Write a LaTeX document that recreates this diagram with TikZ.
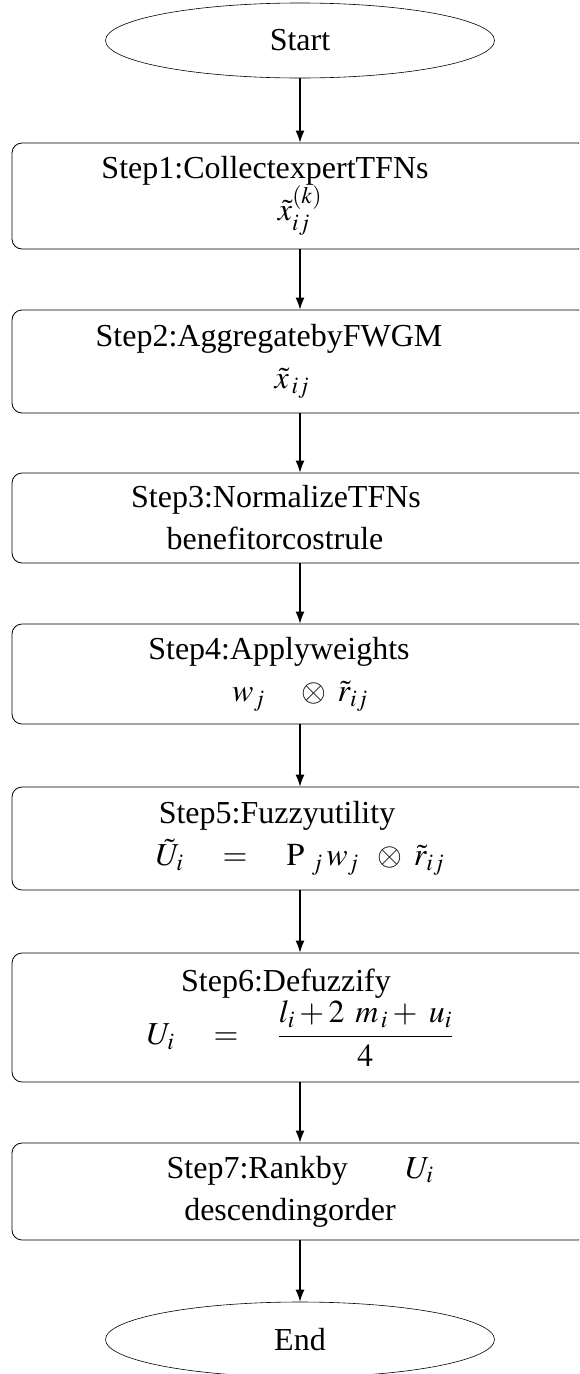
\documentclass[tikz,border=0pt]{standalone}
\usepackage{amsmath}
\usepackage{mathptmx}
\usepackage{fontspec}
\setmainfont{Liberation Serif}
\usepackage{tikz}
\usetikzlibrary{shapes.geometric}
\usetikzlibrary{arrows.meta}

\begin{document}
\begin{tikzpicture}[
        x=1pt, y=-1pt,
        term-node/.style={ellipse,draw,line width=0.6pt,minimum width=389pt,minimum height=75pt,inner sep=0pt},
        step-node/.style={rectangle,draw,line width=0.8pt,rounded corners=10pt,minimum width=576pt,align=center,inner sep=0pt},
        flow/.style={-{Latex[length=12pt,width=9pt]},line width=1.2pt},
        font=\fontsize{32}{42}\selectfont
    ]
        \clip (0,0) rectangle (579,1374);

        \node[term-node] (start) at (300, 40.5) {Start};

        \node[step-node, minimum height=106pt] (s1) at (300, 196) {Step1:CollectexpertTFNs\kern70pt\\$\tilde{x}_{ij}^{(k)}$};
        \node[step-node, minimum height=103pt] (s2) at (300, 361.5) {Step2:AggregatebyFWGM\kern62pt\\$\tilde{x}_{\,ij}$\kern16pt};
        \node[step-node, minimum height=90pt] (s3) at (300, 518) {Step3:NormalizeTFNs\kern48pt\\benefitorcostrule\kern50pt};
        \node[step-node, minimum height=100pt] (s4) at (300, 674) {Step4:Applyweights\kern42pt\\$w_j\quad\otimes\;\tilde{r}_{ij}$};
        \node[step-node, minimum height=103pt] (s5) at (300, 838.5) {Step5:Fuzzyutility\kern46pt\\$\tilde{U}_i\quad=\quad\mathrm{P}\;{}_{j}\,w_j\;\;\otimes\;\tilde{r}_{ij}$};
        \node[step-node, minimum height=129pt] (s6) at (300, 1017.5) {Step6:Defuzzify\kern28pt\\[2pt]$U_i\quad=\quad\displaystyle\frac{l_i+2\;\,m_{\,i}+\;u_i}{4}$};
        \node[step-node, minimum height=97pt] (s7) at (300, 1191.5) {Step7:Rankby\hspace{1.8em}$U_i$\\descendingorder\kern20pt};

        \node[term-node] (end) at (300, 1339.5) {End};

        \draw[flow] (start) -- (s1);
        \draw[flow] (s1) -- (s2);
        \draw[flow] (s2) -- (s3);
        \draw[flow] (s3) -- (s4);
        \draw[flow] (s4) -- (s5);
        \draw[flow] (s5) -- (s6);
        \draw[flow] (s6) -- (s7);
        \draw[flow] (s7) -- (end);
    \end{tikzpicture}
\end{document}
